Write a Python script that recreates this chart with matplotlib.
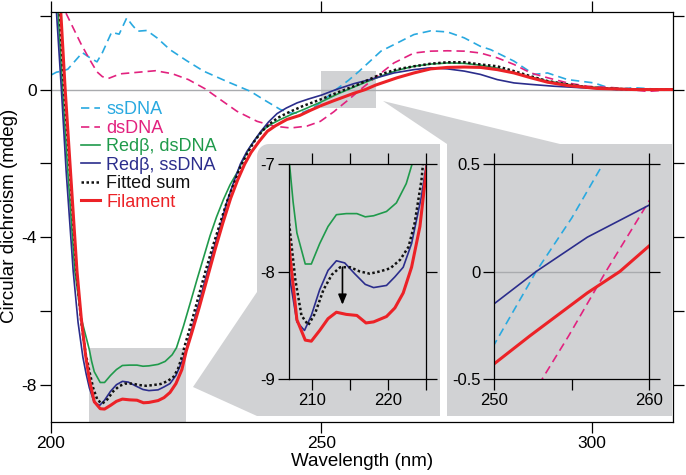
import numpy as np
import matplotlib
matplotlib.use("Agg")
import matplotlib.pyplot as plt
from matplotlib.patches import Polygon, Rectangle

plt.rcParams['font.family'] = ['Liberation Sans', 'DejaVu Sans']

# ---------------- data ----------------
ss_x = [200.1, 201.0, 202.0, 203.1, 204.3, 205.8, 207.0, 208.5, 209.5, 211.2, 212.6, 214.0, 215.0, 216.0,
        217.7, 219.6, 222.0, 225.1, 228.2, 232.5, 236.9, 239.3, 242.4, 244.5, 246.5, 248.2, 250.0, 252.7,
        255.0, 257.0, 261.0, 264.0, 267.1, 270.2, 273.3, 276.4, 279.4, 281.3, 285.6, 289.3, 291.8, 295.5,
        300.4, 304.1, 307.8, 311.0, 315.0]
ss_y = [0.40, 0.47, 0.50, 0.55, 0.75, 1.00, 0.88, 0.75, 1.00, 1.55, 1.50, 1.94, 1.75, 1.58,
        1.60, 1.40, 1.08, 0.78, 0.50, 0.22, -0.05, -0.27, -0.54, -0.64, -0.62, -0.52, -0.34, 0.00,
        0.25, 0.50, 1.04, 1.26, 1.49, 1.59, 1.56, 1.40, 1.17, 1.08, 0.77, 0.41, 0.45, 0.27,
        0.18, 0.00, 0.05, 0.02, 0.00]

ds_x = [201.8, 202.6, 204.0, 205.5, 207.0, 208.5, 209.5, 210.6, 212.0, 213.1, 216.2, 219.3, 222.4, 225.4,
        228.5, 231.3, 234.4, 238.1, 241.2, 244.3, 247.3, 249.8, 252.3, 253.1, 254.8, 257.2, 260.0, 263.4,
        267.1, 270.2, 273.3, 276.4, 279.4, 282.5, 285.6, 288.7, 291.8, 295.5, 299.2, 304.1, 307.0, 310.3, 315.0]
ds_y = [2.40, 2.12, 1.70, 1.25, 0.85, 0.48, 0.35, 0.30, 0.38, 0.43, 0.47, 0.51, 0.43, 0.27,
        0.02, -0.27, -0.59, -0.86, -0.99, -1.04, -0.99, -0.86, -0.60, -0.50, -0.30, 0.00, 0.33, 0.72,
        0.99, 1.04, 1.05, 1.04, 0.99, 0.86, 0.68, 0.45, 0.32, 0.18, 0.09, 0.05, 0.00, -0.05, 0.00]

gr_x = [200.5, 201.3, 202.1, 203.1, 204.4, 205.6, 206.4, 207.1, 207.5, 208.0, 209.1, 209.9, 211.0, 212.1,
        213.2, 214.5, 215.9, 217.0, 218.1, 219.8, 221.1, 222.4, 223.2, 224.5, 225.8, 227.0, 228.2, 229.4,
        230.6, 231.9, 233.1, 234.4, 235.6, 236.9, 238.1, 239.3, 240.8, 242.4, 244.5, 246.7, 250.0, 253.0,
        256.5, 260.9, 264.0, 267.1, 270.2, 273.3, 276.4, 279.4, 282.5, 285.6, 288.7, 291.8, 295.5, 299.2,
        304.0, 310.0, 315.0]
gr_y = [3.90, 2.12, 0.05, -2.21, -4.91, -6.20, -6.65, -7.05, -7.35, -7.64, -7.93, -7.93, -7.74, -7.58,
        -7.47, -7.46, -7.46, -7.49, -7.48, -7.44, -7.36, -7.18, -6.99, -6.40, -5.75, -5.14, -4.55, -3.96,
        -3.45, -2.97, -2.58, -2.25, -1.88, -1.53, -1.28, -1.08, -0.93, -0.81, -0.67, -0.54, -0.33, -0.12,
        0.10, 0.36, 0.52, 0.63, 0.69, 0.72, 0.71, 0.66, 0.58, 0.45, 0.34, 0.23, 0.14, 0.07,
        0.03, 0.00, 0.00]

bl_x = [200.5, 201.0, 201.9, 202.8, 204.1, 205.0, 205.9, 206.5, 207.1, 208.0, 209.0, 209.9, 211.0, 212.1,
        213.2, 214.3, 215.6, 217.0, 218.1, 219.8, 220.9, 222.0, 223.1, 224.4, 225.0, 226.0, 227.2, 228.8,
        230.0, 231.3, 232.5, 233.8, 235.0, 236.2, 237.5, 238.7, 240.2, 241.8, 243.5, 245.5, 247.5, 250.0,
        252.7, 256.0, 260.0, 263.4, 267.1, 270.2, 273.3, 276.4, 279.4, 282.5, 285.6, 288.7, 293.0, 298.0,
        305.0, 315.0]
bl_y = [3.30, 2.12, 0.05, -2.21, -4.91, -6.30, -7.25, -7.70, -8.08, -8.47, -8.55, -8.41, -8.17, -7.99,
        -7.90, -7.92, -8.02, -8.12, -8.15, -8.13, -8.05, -7.96, -7.74, -7.30, -7.02, -6.50, -5.85, -5.00,
        -4.35, -3.70, -3.05, -2.50, -2.02, -1.68, -1.40, -1.15, -0.88, -0.65, -0.50, -0.36, -0.26, -0.15,
        0.00, 0.16, 0.31, 0.45, 0.54, 0.59, 0.56, 0.50, 0.41, 0.27, 0.18, 0.14, 0.09, 0.05,
        0.00, 0.00]

fit_x = [201.0, 201.6, 202.4, 203.5, 204.7, 205.6, 206.4, 207.1, 207.8, 208.6, 209.5, 210.4, 211.5, 212.6,
         213.7, 215.0, 216.3, 217.6, 218.9, 220.3, 221.6, 222.7, 223.5, 224.4, 224.6, 225.6, 227.0, 228.5,
         229.8, 231.2, 232.5, 233.8, 235.0, 236.3, 237.6, 239.0, 240.5, 242.0, 243.6, 246.5, 249.8, 253.0,
         256.5, 260.9, 264.0, 267.1, 270.2, 273.3, 276.4, 279.4, 282.5, 285.6, 288.7, 291.8, 295.5, 299.2,
         304.1, 310.0, 315.0]
fit_y = [3.50, 2.12, 0.05, -2.21, -4.91, -6.30, -7.15, -7.63, -8.08, -8.41, -8.50, -8.39, -8.17, -8.03,
         -7.96, -7.96, -8.00, -8.02, -8.00, -7.97, -7.89, -7.77, -7.55, -7.15, -7.00, -6.50, -5.75, -4.95,
         -4.30, -3.65, -3.05, -2.55, -2.10, -1.72, -1.40, -1.13, -0.92, -0.76, -0.64, -0.45, -0.27, -0.08,
         0.12, 0.41, 0.55, 0.63, 0.70, 0.74, 0.74, 0.68, 0.63, 0.50, 0.36, 0.23, 0.14, 0.06,
         0.02, 0.00, 0.00]

rd_x = [200.8, 201.8, 202.6, 203.6, 204.8, 205.6, 206.4, 207.1, 208.0, 209.1, 209.9, 211.0, 212.1, 213.2,
        214.5, 215.9, 217.1, 218.1, 219.8, 220.9, 222.0, 223.1, 224.2, 225.0, 226.0, 227.4, 228.9, 230.4,
        231.8, 233.2, 234.5, 235.8, 237.0, 238.5, 240.0, 241.5, 243.6, 246.0, 248.0, 250.0, 252.3, 256.0,
        258.1, 260.0, 264.0, 267.1, 270.2, 273.3, 276.4, 279.4, 282.5, 285.6, 288.7, 291.8, 295.5, 301.0,
        308.0, 315.0]
rd_y = [4.40, 2.12, 0.05, -2.21, -4.91, -6.20, -7.20, -7.86, -8.45, -8.64, -8.65, -8.55, -8.44, -8.38,
        -8.40, -8.41, -8.48, -8.47, -8.42, -8.34, -8.20, -7.96, -7.58, -7.08, -6.60, -5.90, -5.10, -4.30,
        -3.60, -2.95, -2.45, -2.02, -1.70, -1.40, -1.13, -0.98, -0.81, -0.70, -0.56, -0.43, -0.30, -0.10,
        0.00, 0.12, 0.32, 0.45, 0.56, 0.60, 0.61, 0.60, 0.54, 0.45, 0.32, 0.20, 0.11, 0.03,
        0.00, 0.00]

labels = ['ssDNA', 'dsDNA', 'Red\u03b2, dsDNA', 'Red\u03b2, ssDNA', 'Fitted sum', 'Filament']

main_xticks = [200, 250, 300]
main_yticks = [-8, -6, -4, -2, 0, 2]
main_ylabels = ['-8', '', '-4', '', '0', '']
in1_xticks = [210, 215, 220, 225]
in1_xlabels = ['210', '', '220', '']
in1_yticks = [-9, -8, -7]
in1_ylabels = ['-9', '-8', '-7']
in2_xticks = [250, 255, 260]
in2_xlabels = ['250', '', '260']
in2_yticks = [-0.5, 0, 0.5]
in2_ylabels = ['-0.5', '0', '0.5']

# ---------------- styles ----------------
C_SS = '#29a9e0'
C_DS = '#e2227f'
C_GR = '#1f9a4b'
C_BL = '#2b2d8c'
C_FIT = '#111111'
C_RD = '#ec2227'
GREY = '#d1d2d4'
ZERO = '#a9abae'

styles = {
    'ss': dict(color=C_SS, lw=1.2, ls=(0, (5, 3))),
    'ds': dict(color=C_DS, lw=1.2, ls=(0, (5, 3))),
    'gr': dict(color=C_GR, lw=1.2, ls='-'),
    'bl': dict(color=C_BL, lw=1.2, ls='-'),
    'fit': dict(color=C_FIT, lw=1.8, ls=(0, (1, 1))),
    'rd': dict(color=C_RD, lw=2.2, ls='-'),
}

W, H = 686, 475
fig = plt.figure(figsize=(W / 100, H / 100), dpi=100)
fig.patch.set_facecolor('white')


def fr(x, y):
    return (x / W, 1 - y / H)


def rect(l, t, r, b):
    return [l / W, 1 - b / H, (r - l) / W, (b - t) / H]


# grey panels + wedges (figure level, behind everything)
arc_t = np.linspace(0, np.pi / 2, 10)
corner = [(269 - 12 * np.cos(t), 156 - 12 * np.sin(t)) for t in arc_t]
p1 = [(193, 387), (257, 292)] + corner + [(440, 144), (440, 416), (257, 416)]
fig.add_artist(Polygon([fr(*p) for p in p1], closed=True, transform=fig.transFigure,
                       facecolor=GREY, edgecolor='none', zorder=-5))
p2 = [(383, 101), (560, 144), (672, 144), (672, 416), (447, 416), (447, 144)]
fig.add_artist(Polygon([fr(*p) for p in p2], closed=True, transform=fig.transFigure,
                       facecolor=GREY, edgecolor='none', zorder=-5))

# ---------------- main axes ----------------
ax = fig.add_axes(rect(51, 12, 673, 422))
ax.set_facecolor('none')
ax.set_xlim(200, 315)
ax.set_ylim(-9, 2.1)
ax.add_patch(Rectangle((207, -9), 18, 2, facecolor=GREY, edgecolor='none', zorder=0.5))
ax.add_patch(Rectangle((250, -0.5), 10, 1, facecolor=GREY, edgecolor='none', zorder=0.5))
ax.axhline(0, color=ZERO, lw=1.0, zorder=1)

series = [(ss_x, ss_y, 'ss'), (ds_x, ds_y, 'ds'), (gr_x, gr_y, 'gr'),
          (bl_x, bl_y, 'bl'), (fit_x, fit_y, 'fit'), (rd_x, rd_y, 'rd')]
handles = []
for (x, y, k), lab in zip(series, labels):
    ln, = ax.plot(x, y, label=lab, zorder=2, **styles[k])
    handles.append(ln)

ax.set_xticks(main_xticks)
ax.set_xticklabels([str(t) for t in main_xticks])
ax.set_yticks(main_yticks)
ax.set_yticklabels(main_ylabels)
ax.tick_params(direction='out', length=8, width=0.9, labelsize=12.5, pad=2,
               top=True, right=True, labeltop=False, labelright=False)
for s in ax.spines.values():
    s.set_linewidth(0.9)

leg = ax.legend(handles=handles, loc='upper left', bbox_to_anchor=(0.048, 0.782),
                frameon=False, fontsize=13, handlelength=1.05, handletextpad=0.35,
                labelspacing=0.08, borderpad=0, borderaxespad=0, labelcolor='linecolor')

fig.text(362 / W, 1 - 461 / H, 'Wavelength (nm)', ha='center', va='center', fontsize=13.5)
fig.text(10 / W, 1 - 216 / H, 'Circular dichroism (mdeg)', ha='center', va='center',
         rotation=90, fontsize=13.5)

# ---------------- inset 1 ----------------
a1 = fig.add_axes(rect(289.3, 164.3, 426, 378.7), zorder=3)
a1.set_facecolor('none')
a1.set_xlim(207, 225)
a1.set_ylim(-9, -7)
for (x, y, k) in [(gr_x, gr_y, 'gr'), (bl_x, bl_y, 'bl'), (fit_x, fit_y, 'fit'), (rd_x, rd_y, 'rd')]:
    a1.plot(x, y, **styles[k])
a1.annotate('', xy=(214, -8.31), xytext=(214, -7.96),
            arrowprops=dict(arrowstyle='-|>,head_length=0.6,head_width=0.25', color='black', lw=1.2,
                            shrinkA=0, shrinkB=0))
a1.set_xticks(in1_xticks)
a1.set_xticklabels(in1_xlabels)
a1.set_yticks(in1_yticks)
a1.set_yticklabels(in1_ylabels)
a1.tick_params(direction='out', length=8, width=0.9, labelsize=12, pad=2,
               top=True, right=True, labeltop=False, labelright=False)
for s in a1.spines.values():
    s.set_linewidth(0.9)

# ---------------- inset 2 ----------------
a2 = fig.add_axes(rect(494.3, 164.3, 649.3, 378.7), zorder=3)
a2.set_facecolor('none')
a2.set_xlim(250, 260)
a2.set_ylim(-0.5, 0.5)
a2.axhline(0, color=ZERO, lw=1.0, zorder=1)
for (x, y, k) in [(ss_x, ss_y, 'ss'), (ds_x, ds_y, 'ds'), (bl_x, bl_y, 'bl'), (rd_x, rd_y, 'rd')]:
    a2.plot(x, y, zorder=2, **styles[k])
a2.set_xticks(in2_xticks)
a2.set_xticklabels(in2_xlabels)
a2.set_yticks(in2_yticks)
a2.set_yticklabels(in2_ylabels)
a2.tick_params(direction='out', length=8, width=0.9, labelsize=12, pad=2,
               top=True, right=True, labeltop=False, labelright=False)
for s in a2.spines.values():
    s.set_linewidth(0.9)

fig.savefig('out.png', dpi=100)
